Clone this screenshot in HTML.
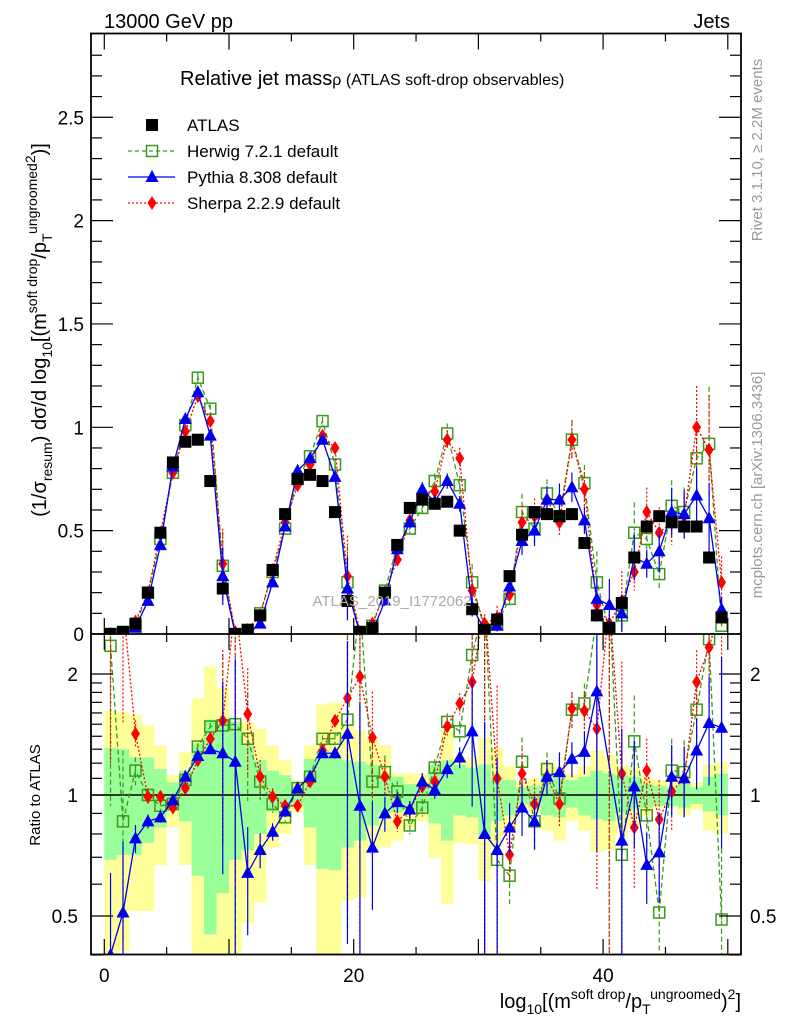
<!DOCTYPE html>
<html><head><meta charset="utf-8"><style>
html,body{margin:0;padding:0;background:#fff;width:786px;height:1024px;overflow:hidden;}
svg{display:block;overflow:hidden;font-family:"Liberation Sans",sans-serif;}
</style></head><body>
<svg id="chart" width="786" height="1024" viewBox="0 0 786 1024" overflow="hidden" xmlns="http://www.w3.org/2000/svg">
<defs>
<clipPath id="cm"><rect x="91" y="33" width="650" height="601"/></clipPath>
<clipPath id="cr"><rect x="91" y="634" width="650" height="321"/></clipPath>
</defs>
<rect x="0" y="0" width="786" height="1024" fill="#fff"/>
<g id="bands" clip-path="url(#cr)"></g>
<g id="ratioMarks" clip-path="url(#cr)"></g>
<g id="mainMarks" clip-path="url(#cm)"></g>
<g id="axes"></g>
<text x="104" y="28" font-size="20">13000 GeV pp</text>
<text x="730" y="28" font-size="20" text-anchor="end">Jets</text>
<text x="180" y="85" font-size="20">Relative jet mass<tspan font-size="16">ρ (ATLAS soft-drop observables)</tspan></text>
<text x="392" y="606" font-size="15" fill="#aaa" text-anchor="middle">ATLAS_2019_I1772062</text>
<text transform="translate(762,150) rotate(-90)" font-size="15" fill="#999" text-anchor="middle">Rivet 3.1.10, ≥ 2.2M events</text>
<text transform="translate(762,485) rotate(-90)" font-size="15" fill="#999" text-anchor="middle">mcplots.cern.ch [arXiv:1306.3436]</text>
<text transform="translate(46,330) rotate(-90)" font-size="20" text-anchor="middle">(1/σ<tspan font-size="14" dy="6">resum</tspan><tspan dy="-6">) dσ/d log</tspan><tspan font-size="14" dy="6">10</tspan><tspan dy="-6">[(m</tspan><tspan font-size="14" dy="-9">soft drop</tspan><tspan dy="9">/p</tspan><tspan font-size="14" dy="6">T</tspan><tspan font-size="14" dy="-15">ungroomed</tspan><tspan font-size="14" dy="-2">2</tspan><tspan dy="11">)]</tspan></text>
<text transform="translate(40,795) rotate(-90)" font-size="15" text-anchor="middle">Ratio to ATLAS</text>
<text x="741" y="1008" font-size="20" text-anchor="end">log<tspan font-size="14" dy="6">10</tspan><tspan dy="-6">[(m</tspan><tspan font-size="14" dy="-9">soft drop</tspan><tspan dy="9">/p</tspan><tspan font-size="14" dy="6">T</tspan><tspan font-size="14" dy="-15">ungroomed</tspan><tspan dy="9">)</tspan><tspan font-size="14" dy="-9">2</tspan><tspan dy="9">]</tspan></text>
<g id="legend"></g>
</svg>
<script>
const atlas=[0.0,0.01,0.05,0.20,0.49,0.83,0.93,0.94,0.74,0.22,0.0,0.02,0.09,0.31,0.58,0.75,0.77,0.74,0.59,0.16,0.01,0.03,0.20,0.43,0.61,0.65,0.63,0.64,0.50,0.12,0.02,0.07,0.28,0.48,0.59,0.58,0.57,0.58,0.44,0.09,0.03,0.15,0.37,0.52,0.57,0.54,0.52,0.52,0.37,0.08];
const herwig=[0.0,0.01,0.04,0.20,0.46,0.78,1.01,1.24,1.09,0.33,0.0,0.02,0.10,0.30,0.51,0.75,0.86,1.03,0.82,0.25,0.01,0.04,0.21,0.43,0.51,0.61,0.74,0.97,0.72,0.25,0.02,0.05,0.17,0.59,0.51,0.68,0.57,0.94,0.73,0.25,0.02,0.09,0.49,0.46,0.29,0.62,0.59,0.85,0.92,0.04];
const pythia=[0.0,0.0,0.03,0.16,0.43,0.81,1.04,1.17,0.96,0.28,0.0,0.0,0.05,0.25,0.52,0.79,0.85,0.94,0.76,0.22,0.0,0.01,0.16,0.41,0.54,0.70,0.64,0.74,0.63,0.13,0.02,0.04,0.23,0.45,0.50,0.65,0.65,0.71,0.55,0.17,0.14,0.10,0.37,0.34,0.40,0.59,0.58,0.67,0.56,0.12];
const sherpa=[0.0,0.0,0.06,0.20,0.49,0.78,0.98,1.15,1.03,0.34,0.01,0.02,0.09,0.31,0.54,0.72,0.82,0.96,0.90,0.28,0.01,0.05,0.20,0.36,0.55,0.68,0.69,0.94,0.85,0.21,0.05,0.08,0.19,0.54,0.57,0.65,0.54,0.94,0.70,0.14,0.05,0.16,0.30,0.59,0.49,0.54,0.57,1.00,0.89,0.25];
const mcRelErr=[0.6,0.5,0.08,0.04,0.03,0.02,0.02,0.02,0.02,0.5,0.8,0.3,0.1,0.05,0.03,0.02,0.02,0.02,0.03,0.7,0.8,0.3,0.1,0.06,0.05,0.05,0.05,0.05,0.06,0.35,0.9,0.7,0.15,0.15,0.15,0.1,0.12,0.1,0.12,0.6,0.9,0.9,0.3,0.2,0.25,0.2,0.2,0.2,0.3,0.5];
const herwigRatio=[2.35,0.86,1.15,1.0,0.94,0.95,1.09,1.32,1.48,1.49,1.50,1.38,1.08,0.95,0.88,1.04,1.11,1.38,1.38,1.54,3.0,1.08,1.14,1.02,0.84,0.93,1.17,1.52,1.44,2.23,3.0,0.69,0.63,1.21,0.86,1.16,0.98,1.63,1.69,2.8,3.0,0.71,1.36,0.89,0.51,1.15,1.14,1.63,2.44,0.49];
const pythiaRatio=[0.40,0.51,0.78,0.86,0.88,0.97,1.11,1.25,1.30,1.27,1.21,0.64,0.73,0.81,0.91,1.04,1.11,1.27,1.27,1.42,0.94,0.74,0.90,0.96,0.92,1.08,1.03,1.16,1.24,1.44,0.80,0.73,0.83,0.93,0.86,1.11,1.14,1.23,1.28,1.81,null,0.77,1.05,0.67,0.72,1.11,1.10,1.29,1.51,1.47];
const sherpaRatio=[3.0,3.0,1.42,0.99,0.99,0.93,1.04,1.22,1.38,1.53,3.0,1.59,1.11,0.99,0.94,0.94,1.08,1.29,1.53,1.74,1.97,1.39,1.11,0.86,0.92,1.05,1.08,1.48,1.69,1.91,3.0,1.10,0.71,1.13,0.95,1.11,0.95,1.64,1.62,1.46,3.0,1.13,0.83,1.15,0.87,1.02,1.10,1.91,2.33,3.0];
const yellowHi=[1.62,1.61,1.58,1.49,1.33,1.12,1.28,1.74,2.09,1.85,1.53,1.52,1.46,1.33,1.22,1.09,1.33,1.68,1.70,1.49,1.45,1.39,1.33,1.13,1.13,1.13,1.18,1.45,1.24,1.24,1.39,1.31,1.18,1.075,1.10,1.21,1.18,1.13,1.18,1.29,1.26,1.19,1.17,1.11,1.09,1.10,1.12,1.075,1.19,1.21];
const greenHi=[1.31,1.30,1.24,1.24,1.16,1.075,1.15,1.34,1.54,1.53,1.52,1.33,1.22,1.15,1.12,1.045,1.23,1.29,1.24,1.22,1.21,1.19,1.13,1.11,1.065,1.065,1.19,1.22,1.19,1.17,1.19,1.11,1.09,1.045,1.055,1.13,1.13,1.09,1.11,1.15,1.13,1.12,1.11,1.065,1.055,1.045,1.065,1.045,1.11,1.13];
const greenLo=[0.69,0.71,0.71,0.76,0.83,0.91,0.86,0.63,0.45,0.57,0.69,0.73,0.80,0.91,0.93,0.94,0.83,0.655,0.65,0.74,0.77,0.84,0.90,0.905,0.92,0.91,0.85,0.77,0.89,0.88,0.785,0.86,0.89,0.95,0.93,0.89,0.88,0.93,0.89,0.87,0.86,0.90,0.92,0.93,0.94,0.94,0.93,0.95,0.91,0.89];
const yellowLo=[0.35,0.41,0.515,0.515,0.67,0.83,0.67,0.35,0.35,0.35,0.35,0.48,0.54,0.74,0.80,0.905,0.67,0.35,0.35,0.545,0.556,0.72,0.74,0.77,0.83,0.86,0.70,0.535,0.76,0.755,0.61,0.74,0.83,0.92,0.90,0.815,0.77,0.86,0.815,0.72,0.73,0.80,0.84,0.89,0.93,0.93,0.89,0.92,0.815,0.80];
const mainYTicks=["0","0.5","1","1.5","2","2.5"];
const xTicks=["0","20","40"];
const ratioTicks=["0.5","1","2"];

const NS="http://www.w3.org/2000/svg";
const X=v=>104.3+12.47*v;
const Y=v=>634-206.7*v;
const R=r=>795-402*Math.log10(r);
function mk(tag,attrs,parent){const e=document.createElementNS(NS,tag);for(const k in attrs)e.setAttribute(k,attrs[k]);parent.appendChild(e);return e;}
const bands=document.getElementById('bands'),rm=document.getElementById('ratioMarks'),mm=document.getElementById('mainMarks'),ax=document.getElementById('axes'),lg=document.getElementById('legend');

for(let i=0;i<atlas.length;i++){
  const y=mk('rect',{x:X(i),width:12.6,y:R(yellowHi[i]),height:R(yellowLo[i])-R(yellowHi[i]),fill:'#ffff99'},bands);
  
  
  const g=mk('rect',{x:X(i),width:12.6,y:R(greenHi[i]),height:R(greenLo[i])-R(greenHi[i]),fill:'#99ff99'},bands);
  
  
}
const one=mk('line',{x1:91,x2:741,y1:R(1),y2:R(1),stroke:'#000','stroke-width':1.5},rm);



function marker(type,cx,cy,parent,name){
  let e;
  if(type==='sq') e=mk('rect',{x:cx-6,y:cy-6,width:12,height:12,fill:'#000'},parent);
  else if(type==='osq') e=mk('rect',{x:cx-5.5,y:cy-5.5,width:11,height:11,fill:'none',stroke:'#3a9a1a','stroke-width':1.5},parent);
  else if(type==='tri') e=mk('polygon',{points:`${cx},${cy-7} ${cx+6.5},${cy+5} ${cx-6.5},${cy+5}`,fill:'#0000ee'},parent);
  else e=mk('polygon',{points:`${cx},${cy-7} ${cx+4.5},${cy} ${cx},${cy+7} ${cx-4.5},${cy}`,fill:'#ff0000'},parent);
  
  
  return e;
}
const series=[
 {vals:herwig,ratio:herwigRatio,col:'#3a9a1a',dash:'5,3',m:'osq',n:'herwig'},
 {vals:sherpa,ratio:sherpaRatio,col:'#ff0000',dash:'2,2',m:'dia',n:'sherpa'},
 {vals:pythia,ratio:pythiaRatio,col:'#0000ee',dash:'',m:'tri',n:'pythia'}
];
series.forEach(s=>{
  let pts=s.vals.map((v,i)=>X(i+0.5)+','+Y(v)).join(' ');
  const pl=mk('polyline',{points:pts,fill:'none',stroke:s.col,'stroke-width':1.3,'stroke-dasharray':s.dash},mm);
  
  
  s.vals.forEach((v,i)=>{
    const e=v*mcRelErr[i];
    if(e>0.002){const l=mk('line',{x1:X(i+0.5),x2:X(i+0.5),y1:Y(v+e),y2:Y(Math.max(v-e,-0.02)),stroke:s.col,'stroke-width':1.2,'stroke-dasharray':s.dash},mm);
      
      }
    marker(s.m,X(i+0.5),Y(v),mm,s.n+'-point');
  });
  const rp=[];s.ratio.forEach((r,i)=>{if(r!==null)rp.push(X(i+0.5)+','+R(r));});
  const rl=mk('polyline',{points:rp.join(' '),fill:'none',stroke:s.col,'stroke-width':1.3,'stroke-dasharray':s.dash},rm);
  
  
  s.ratio.forEach((r,i)=>{
    if(r===null)return;
    const e=r*mcRelErr[i];
    const l=mk('line',{x1:X(i+0.5),x2:X(i+0.5),y1:R(r+e),y2:R(Math.max(r-e,0.38)),stroke:s.col,'stroke-width':1.2,'stroke-dasharray':s.dash},rm);
    
    
    marker(s.m,X(i+0.5),R(r),rm,s.n+'-ratio-point');
  });
});
atlas.forEach((v,i)=>marker('sq',X(i+0.5),Y(v),mm,'atlas-point'));

function ln(x1,y1,x2,y2,w,name){const l=mk('line',{x1,y1,x2,y2,stroke:'#000','stroke-width':w||1.2},ax);}
const fr=mk('rect',{x:91,y:33.5,width:650,height:921,fill:'none',stroke:'#000','stroke-width':1.8},ax);


ln(91,634,741,634,1.8,'panel-separator');
for(let v=0;v<=50;v+=5){
  const L=v%10===0?16:8;
  [[33.5,1],[634,-1],[634,1],[955,-1]].forEach(([y,d])=>ln(X(v),y,X(v),y+d*L,1.2,'x-tick'));
}
for(let k=0;k<=28;k++){
  const v=k*0.1,L=k%5===0?22:11;
  if(Y(v)<34)continue;
  ln(91,Y(v),91+L,Y(v),1.2,'y-tick');ln(741,Y(v),741-L,Y(v),1.2,'y-tick');
}
mainYTicks.forEach((t,i)=>{const v=parseFloat(t);const e=mk('text',{x:84,y:Y(v)+7,'font-size':19,'text-anchor':'end'},ax);e.textContent=t;
  
  });
const rminor=[0.4,0.5,0.6,0.7,0.8,0.9,1,1.1,1.2,1.3,1.4,1.5,1.6,1.7,1.8,1.9,2];
rminor.forEach(r=>{const L=(r===0.5||r===1||r===2)?22:11;ln(91,R(r),91+L,R(r),1.2,'ratio-tick');ln(741,R(r),741-L,R(r),1.2,'ratio-tick');});
ratioTicks.forEach(t=>{const r=parseFloat(t);
  const a=mk('text',{x:78,y:R(r)+7,'font-size':19,'text-anchor':'end'},ax);a.textContent=t;
  
  
  const b=mk('text',{x:750,y:R(r)+7,'font-size':19},ax);b.textContent=t;
  
  });
xTicks.forEach(t=>{const e=mk('text',{x:X(parseFloat(t)),y:982,'font-size':19,'text-anchor':'middle'},ax);e.textContent=t;
  
  });

const leg=[['sq','#000','','ATLAS','atlas'],['osq','#3a9a1a','4,3','Herwig 7.2.1 default','herwig'],['tri','#0000ee','','Pythia 8.308 default','pythia'],['dia','#ff0000','2,2','Sherpa 2.2.9 default','sherpa']];
leg.forEach((l,k)=>{
  const y=125+k*26;
  const g=mk('g',{},lg);
  
  
  if(k>0)mk('line',{x1:128,x2:175,y1:y,y2:y,stroke:l[1],'stroke-width':1.3,'stroke-dasharray':l[2]},g);
  marker(l[0],152,y,g,'legend-marker');
  const t=mk('text',{x:187,y:y+6,'font-size':17},g);t.textContent=l[3];
});
</script>
</body></html>
